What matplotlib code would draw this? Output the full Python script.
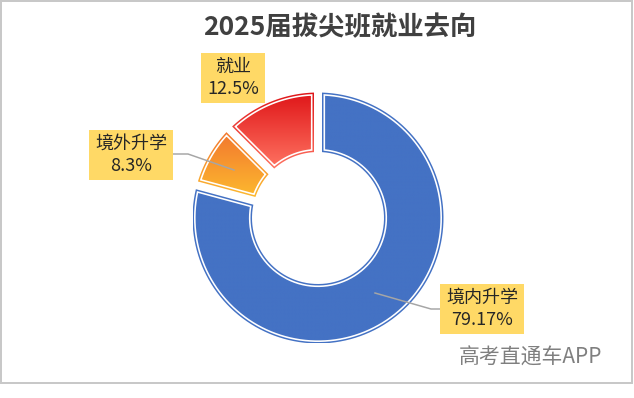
"""Doughnut chart: 2025届拔尖班就业去向."""
import numpy as np
import matplotlib
matplotlib.use("Agg")
import matplotlib.pyplot as plt
from matplotlib.colors import to_rgb
from matplotlib.patches import Polygon, Rectangle

plt.rcParams["font.family"] = ["Noto Sans CJK SC", "DejaVu Sans"]

TITLE = "2025届拔尖班就业去向"
WATERMARK = "高考直通车APP"
categories = ["境内升学", "境外升学", "就业"]
shares = [79.17, 8.3, 12.5]
pct_labels = ["79.17%", "8.3%", "12.5%"]

# (top colour, bottom colour) of each slice's gradient fill
fills = [("#4472C4", "#4472C4"), ("#F2772F", "#FDB92E"), ("#DF1518", "#FF7462")]

W, H = 634, 398          # canvas in pixels, axes use pixel units
CX, CY = 318, 218        # doughnut centre
R_OUT, R_IN = 125.5, 66
GAP = 4.0                # half the white gap between slices
PX = 0.72                # points per pixel at dpi 100

# label boxes: centre x, centre y, width, height
boxes = [(482, 309, 84, 50), (131, 155, 84, 50), (233, 78, 64, 50)]
leaders = [
    [(375, 293), (431, 309), (440, 309)],
    [(173, 154), (188, 154), (234, 170)],
    None,
]


def sector(t1, t2, r_in, r_out, inset):
    """Polygon of a ring sector from t1 clockwise to t2, shrunk sideways."""
    a_out = np.degrees(np.arcsin(inset / r_out))
    a_in = np.degrees(np.arcsin(inset / r_in))
    outer = np.radians(np.linspace(t1 - a_out, t2 + a_out, 120))
    inner = np.radians(np.linspace(t2 + a_in, t1 - a_in, 80))
    xs = np.concatenate([CX + r_out * np.cos(outer), CX + r_in * np.cos(inner)])
    ys = np.concatenate([CY - r_out * np.sin(outer), CY - r_in * np.sin(inner)])
    return np.column_stack([xs, ys])


fig = plt.figure(figsize=(W / 100, H / 100), dpi=100)
ax = fig.add_axes([0, 0, 1, 1])
ax.set_xlim(0, W)
ax.set_ylim(H, 0)
ax.axis("off")

# outer frame of the chart area
ax.add_patch(Rectangle((1, 1), W - 3, 382, facecolor="white",
                       edgecolor="#C8C8C8", lw=2 * PX, zorder=0))

total = sum(shares)
start = 90.0
for share, (top, bottom) in zip(shares, fills):
    end = start - 360.0 * share / total
    pts = sector(start, end, R_IN, R_OUT, GAP)
    shape = Polygon(pts, closed=True, facecolor="none", edgecolor="none")
    ax.add_patch(shape)
    t = np.linspace(0, 1, 256)[:, None, None]
    img = (1 - t) * np.array(to_rgb(top)) + t * np.array(to_rgb(bottom))
    x0, y0 = pts.min(axis=0)
    x1, y1 = pts.max(axis=0)
    im = ax.imshow(img, extent=(x0, x1, y1, y0), origin="upper",
                   aspect="auto", interpolation="bilinear", zorder=2)
    im.set_clip_path(shape)
    inner_line = sector(start, end, R_IN + 2.3, R_OUT - 2.3, GAP + 2.3)
    ax.add_patch(Polygon(inner_line, closed=True, fill=False,
                         edgecolor="white", lw=1.6 * PX, zorder=3))
    start = end

ax.set_xlim(0, W)
ax.set_ylim(H, 0)

for name, pct, (bx, by, bw, bh), lead in zip(categories, pct_labels, boxes, leaders):
    if lead is not None:
        xs, ys = zip(*lead)
        ax.plot(xs, ys, color="#A6A6A6", lw=1.5 * PX, zorder=4)
    ax.add_patch(Rectangle((bx - bw / 2, by - bh / 2), bw, bh,
                           facecolor="#FFD966", edgecolor="none", zorder=5))
    ax.text(bx, by - 11, name, ha="center", va="center", fontsize=13,
            color="#262626", zorder=6)
    ax.text(bx, by + 11, pct, ha="center", va="center", fontsize=13,
            color="#262626", zorder=6)

ax.text(340, 28, TITLE, ha="center", va="center", fontsize=19,
        fontweight="bold", color="#404040")
ax.text(531, 358, WATERMARK, ha="center", va="center", fontsize=15,
        color="#7F7F7F")

fig.savefig("out.png", dpi=100)
